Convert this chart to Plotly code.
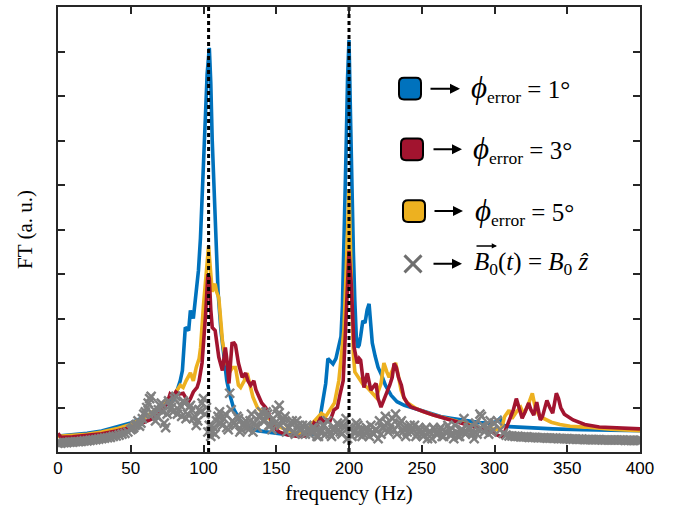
import plotly.graph_objects as go

# ---------------- data ----------------
blue_f = [0, 10, 20, 30, 40, 50, 60, 65, 70, 75, 80, 82, 84, 85.5, 87.5, 89.8, 91, 93, 94.3, 96.5, 97.9,
          99.5, 101, 102.5, 104, 105, 106, 107.5, 109, 110, 112, 114, 116, 118, 121, 125, 130, 137, 145,
          155, 165, 175, 180, 183, 184, 185.5, 187, 189, 191, 193, 194.5, 195.5, 197, 198, 199, 200, 201,
          202, 203, 204, 205, 206, 207, 208, 209.5, 211, 212.5, 213.8, 215, 216, 218, 220, 222, 225, 229,
          233, 238, 243, 247, 255, 263, 270, 280, 290, 298, 302, 304, 306, 310, 320, 340, 360, 380, 400]
blue_v = [0.36, 0.38, 0.42, 0.47, 0.55, 0.65, 0.8, 0.88, 0.97, 1.08, 1.2, 1.4, 1.6, 1.83, 2.8, 2.73, 3.18,
          3.0, 3.4, 4.07, 4.8, 6.0, 7.3, 8.5, 9.08, 8.3, 7.0, 5.5, 4.4, 3.6, 2.73, 2.2, 1.6, 1.3, 0.95,
          0.72, 0.56, 0.48, 0.44, 0.4, 0.37, 0.4, 0.75, 1.3, 1.54, 2.1, 2.05, 1.98, 2.1, 2.35, 2.6, 3.3,
          5.0, 6.8, 8.4, 9.26, 7.6, 5.8, 4.5, 3.4, 2.6, 2.35, 2.4, 2.6, 2.95, 2.9, 3.2, 3.33, 2.7, 2.45,
          2.15, 1.9, 1.76, 1.5, 1.27, 1.13, 1.05, 1.0, 0.97, 0.88, 0.8, 0.76, 0.7, 0.66, 0.64, 0.7, 0.76,
          0.6, 0.57, 0.55, 0.52, 0.5, 0.49, 0.48]

yellow_f = [0, 10, 20, 30, 40, 50, 60, 65, 70, 74, 77, 80, 84, 86, 88, 91, 93, 95, 97, 98, 100, 102,
            103.5, 105, 106, 107, 108, 109, 110.5, 112, 113, 115, 117, 118.6, 120, 122, 124, 125.5, 128,
            130, 132, 134, 137, 140, 144, 150, 158, 165, 172, 175, 178, 181, 184, 187.6, 190, 193, 195,
            196.5, 198, 199, 200, 201, 202, 203, 204, 206, 208, 210, 212.6, 215, 218.6, 222, 224, 226,
            227.6, 230, 232, 234, 235.8, 238, 240.4, 245, 250, 258, 270, 281, 290, 298, 302, 305, 307,
            310, 312, 315, 318, 320, 323, 326, 328, 331, 334, 339, 345, 352, 362, 380, 400]
yellow_v = [0.35, 0.37, 0.4, 0.45, 0.52, 0.62, 0.78, 0.9, 1.0, 1.15, 1.23, 1.3, 1.5, 1.45, 1.6, 1.78,
            1.6, 1.9, 2.1, 2.35, 3.3, 4.2, 4.63, 4.0, 3.6, 3.7, 3.78, 3.6, 3.47, 2.9, 2.5, 2.1, 1.9, 1.83,
            1.9, 1.9, 1.5, 1.45, 1.6, 1.77, 1.5, 1.23, 1.0, 0.9, 0.78, 0.6, 0.48, 0.42, 0.45, 0.65, 0.75,
            0.87, 0.8, 1.0, 1.1, 1.6, 2.2, 2.73, 4.0, 5.2, 5.91, 4.6, 3.4, 2.2, 1.8, 1.7, 1.6, 1.5, 1.45,
            1.35, 1.23, 1.54, 2.0, 1.8, 1.68, 1.85, 2.0, 1.7, 1.39, 1.2, 1.1, 1.0, 0.92, 0.83, 0.72, 0.62,
            0.55, 0.52, 0.5, 0.55, 0.8, 0.94, 0.75, 0.9, 1.0, 0.85, 1.05, 1.32, 1.0, 0.8, 0.75, 0.67,
            0.62, 0.58, 0.56, 0.51, 0.48]

red_f = [0, 2, 10, 20, 30, 40, 50, 60, 65, 70, 73, 75, 77, 79, 81, 83, 86, 88, 89.6, 91, 93, 95.6, 97,
         99, 100, 101.5, 103, 104, 105, 106, 108, 109, 110.5, 112, 113, 115, 116, 117.5, 118.5, 119.6,
         121, 122, 124, 126.6, 129, 130.5, 132.4, 134.6, 136, 138, 140, 142.7, 145, 148, 152, 158, 165,
         170, 174, 176, 178, 180.7, 183, 185, 187, 189.6, 192, 194, 196, 197.6, 199, 200, 201.4, 202.5,
         203.5, 205.7, 207, 208, 210.3, 212.6, 215, 218.6, 220, 222, 224, 226.6, 228, 229.7, 231, 232.5,
         234, 236, 237.7, 240, 242.6, 247, 252, 258, 270, 281, 290, 298, 302, 305, 307, 309, 311, 313,
         315, 317, 319, 321, 323.5, 325, 327, 329, 331.5, 333, 336, 338, 340, 342.5, 344, 345.5, 348,
         354, 362, 372, 385, 396, 400]
red_v = [0.42, 0.33, 0.34, 0.37, 0.41, 0.47, 0.55, 0.68, 0.75, 0.87, 1.0, 1.1, 1.3, 1.23, 1.35, 1.3, 1.32,
         1.2, 1.12, 1.2, 1.35, 1.45, 1.6, 2.0, 2.4, 3.11, 4.0, 3.9, 3.2, 2.8, 2.73, 2.5, 2.13, 1.95,
         1.83, 2.35, 2.1, 1.54, 1.9, 2.44, 2.45, 2.4, 2.0, 1.68, 1.77, 1.6, 1.5, 1.6, 1.4, 1.23, 1.1,
         1.0, 0.85, 0.56, 0.45, 0.38, 0.35, 0.36, 0.45, 0.65, 0.6, 0.78, 0.65, 0.72, 0.7, 0.94, 1.0,
         1.32, 1.6, 2.73, 3.9, 4.52, 3.85, 2.8, 2.35, 1.99, 2.1, 2.06, 1.45, 1.77, 1.39, 1.54, 1.2,
         1.01, 1.2, 1.39, 1.5, 1.68, 1.99, 1.9, 1.68, 1.5, 1.23, 1.1, 1.01, 0.95, 0.9, 0.83, 0.72, 0.6,
         0.52, 0.45, 0.38, 0.34, 0.45, 0.6, 0.75, 0.95, 1.2, 1.0, 0.76, 0.9, 1.1, 0.95, 0.83, 1.12, 0.72,
         0.8, 1.16, 1.0, 0.87, 1.32, 1.2, 1.0, 0.85, 0.72, 0.62, 0.56, 0.54, 0.53, 0.52]

grey_f = list(range(0, 401, 2))
grey_v = [0.20, 0.20, 0.21, 0.21, 0.22, 0.22, 0.23, 0.23, 0.24, 0.25,
          0.25, 0.26, 0.27, 0.28, 0.29, 0.30, 0.31, 0.32, 0.33, 0.35,
          0.36, 0.38, 0.40, 0.42, 0.45, 0.50, 0.55, 0.62, 0.58, 0.75,
          0.90, 1.10, 1.25, 0.95, 0.80, 1.05, 0.90, 0.55, 1.15, 1.00,
          1.20, 0.85, 1.05, 1.15, 0.75, 1.00, 0.95, 0.80, 0.70, 0.90,
          1.20, 1.00, 0.60, 0.45, 0.40, 0.80, 0.65, 0.75, 0.55, 1.32,
          0.70, 0.60, 0.75, 0.50, 0.65, 0.55, 0.70, 0.45, 0.60, 0.80,
          0.90, 0.70, 0.85, 0.60, 0.75, 0.95, 1.05, 0.70, 0.80, 0.55,
          0.65, 0.45, 0.70, 0.50, 0.60, 0.40, 0.50, 0.45, 0.55, 0.35,
          0.45, 0.60, 0.40, 0.50, 0.35, 0.55, 0.65, 0.45, 0.60, 0.75,
          0.55, 0.35, 0.45, 0.60, 0.50, 0.40, 0.55, 0.35, 0.45, 0.50,
          0.30, 0.40, 0.55, 0.65, 0.50, 0.75, 0.85, 0.60, 0.70, 0.55,
          0.45, 0.60, 0.50, 0.35, 0.55, 0.40, 0.50, 0.30, 0.45, 0.55,
          0.40, 0.50, 0.35, 0.45, 0.60, 0.40, 0.30, 0.45, 0.35, 0.50,
          0.40, 0.55, 0.45, 0.30, 0.40, 0.85, 0.60, 0.50, 0.40, 0.45,
          0.65, 0.70, 0.50, 0.42, 0.38, 0.36, 0.36, 0.35, 0.35, 0.34,
          0.34, 0.34, 0.33, 0.33, 0.33, 0.32, 0.32, 0.32, 0.31, 0.31,
          0.31, 0.31, 0.30, 0.30, 0.30, 0.30, 0.29, 0.29, 0.29, 0.29,
          0.29, 0.28, 0.28, 0.28, 0.28, 0.28, 0.28, 0.27, 0.27, 0.27,
          0.27, 0.27, 0.27, 0.27, 0.27, 0.26, 0.26, 0.26, 0.26, 0.26,
          0.26]
grey_f2 = list(range(51, 300, 2))
grey_v2 = [0.52, 0.60, 0.70, 0.65, 0.85, 1.00, 1.20, 0.85, 0.70, 0.95,
           1.10, 0.65, 0.85, 1.05, 0.90, 1.25, 0.95, 0.80, 1.10, 0.85,
           1.05, 0.75, 0.60, 0.95, 1.10, 0.85, 0.45, 0.35, 0.55, 0.70,
           0.90, 0.60, 0.85, 0.50, 0.95, 0.65, 0.80, 0.45, 0.60, 0.70,
           0.50, 0.85, 0.65, 0.55, 0.80, 0.70, 0.90, 0.60, 0.50, 0.65,
           0.85, 0.60, 0.75, 0.45, 0.55, 0.70, 0.40, 0.60, 0.50, 0.45,
           0.60, 0.40, 0.55, 0.50, 0.35, 0.45, 0.60, 0.70, 0.40, 0.50,
           0.45, 0.60, 0.40, 0.55, 0.30, 0.50, 0.45, 0.65, 0.40, 0.35,
           0.50, 0.45, 0.60, 0.40, 0.50, 0.70, 0.55, 0.80, 0.45, 0.60,
           0.50, 0.40, 0.65, 0.45, 0.35, 0.55, 0.45, 0.60, 0.40, 0.50,
           0.35, 0.55, 0.45, 0.30, 0.50, 0.40, 0.55, 0.35, 0.45, 0.50,
           0.40, 0.60, 0.35, 0.50, 0.75, 0.45, 0.55, 0.40, 0.65, 0.50,
           0.80, 0.45, 0.55, 0.70, 0.50]

marker_freqs = [103.5, 200]
x_ticks = [0, 50, 100, 150, 200, 250, 300, 350, 400]
PHI = '<span style="font-size:31px"><i>ϕ</i></span>'
legend_labels = [PHI + "<sub>error</sub> = 1°", PHI + "<sub>error</sub> = 3°",
                 PHI + "<sub>error</sub> = 5°",
                 "<i>B</i><sub>0</sub>(<i>t</i>) = <i>B</i><sub>0</sub> <i>ẑ</i>"]

BLUE, RED, YELLOW, GREY = "#0072BD", "#A2142F", "#EDB120", "#808080"
AX = "#262626"

# ---------------- figure ----------------
W, H = 696, 517
L, R, T, B = 58, 640, 5, 452
XMAX, YMAX = 400, 10


def X(px):
    return (px - L) / (R - L) * XMAX


def Y(py):
    return (B - py) / (B - T) * YMAX


fig = go.Figure()
for f, v, c in [(blue_f, blue_v, BLUE), (yellow_f, yellow_v, YELLOW), (red_f, red_v, RED)]:
    fig.add_trace(go.Scatter(x=f, y=v, mode="lines", line=dict(color=c, width=3.6),
                             hoverinfo="skip", showlegend=False))
for gf, gv in [(grey_f, grey_v), (grey_f2, grey_v2)]:
    fig.add_trace(go.Scatter(x=gf, y=gv, mode="markers",
                             marker=dict(symbol="x-thin", size=9, color=GREY,
                                         line=dict(color=GREY, width=2.4)),
                             showlegend=False))
for mf in marker_freqs:
    fig.add_trace(go.Scatter(x=[mf, mf], y=[0, YMAX], mode="lines",
                             line=dict(color="black", width=3, dash="4px,3px"),
                             showlegend=False))


def rrect(cx, cy, s, r, color):
    x0, x1, y0, y1 = cx - s / 2, cx + s / 2, cy - s / 2, cy + s / 2
    pts = (f"M {X(x0 + r)} {Y(y0)} L {X(x1 - r)} {Y(y0)} Q {X(x1)} {Y(y0)} {X(x1)} {Y(y0 + r)} "
           f"L {X(x1)} {Y(y1 - r)} Q {X(x1)} {Y(y1)} {X(x1 - r)} {Y(y1)} "
           f"L {X(x0 + r)} {Y(y1)} Q {X(x0)} {Y(y1)} {X(x0)} {Y(y1 - r)} "
           f"L {X(x0)} {Y(y0 + r)} Q {X(x0)} {Y(y0)} {X(x0 + r)} {Y(y0)} Z")
    fig.add_shape(type="path", path=pts, xref="x", yref="y", fillcolor=color,
                  line=dict(color="black", width=2))


rows = [(410, 87, BLUE), (412, 148, RED), (414, 210, YELLOW)]
for cx, cy, c in rows:
    rrect(cx, cy, 22, 5, c)

# legend cross
fig.add_trace(go.Scatter(x=[X(413)], y=[Y(263)], mode="markers",
                         marker=dict(symbol="x-thin", size=17, color="#6e6e6e",
                                     line=dict(color="#6e6e6e", width=3)),
                         showlegend=False))

arrow_rows = [(429, 460, 87), (432, 462, 148), (433, 463, 210), (432, 462, 263)]
text_x = [469, 471, 473, 472]
for (a0, a1, ay), tx, lab in zip(arrow_rows, text_x, legend_labels):
    fig.add_annotation(x=X(a1), y=Y(ay), ax=X(a0), ay=Y(ay), xref="x", yref="y",
                       axref="x", ayref="y", showarrow=True, arrowhead=2, arrowsize=1,
                       arrowwidth=2, arrowcolor="black", text="")
    fig.add_annotation(x=X(tx), y=Y(ay), xref="x", yref="y", xanchor="left", yanchor="middle",
                       text=lab, showarrow=False,
                       font=dict(family="Liberation Serif", size=25, color="black"))
# vector arrow over B
fig.add_annotation(x=X(497), y=Y(245), ax=X(475), ay=Y(245), xref="x", yref="y",
                   axref="x", ayref="y", showarrow=True, arrowhead=2, arrowsize=0.7,
                   arrowwidth=1.5, arrowcolor="black", text="")

fig.update_xaxes(range=[0, XMAX], tickvals=x_ticks, ticks="inside", ticklen=7, tickwidth=2,
                 tickcolor=AX, showline=True, linecolor=AX, linewidth=2, mirror="ticks",
                 showgrid=False, zeroline=False,
                 tickfont=dict(family="Liberation Sans", size=17, color="black"),
                 title=dict(text="frequency (Hz)", standoff=8,
                            font=dict(family="Liberation Serif", size=21, color="black")))
fig.update_yaxes(range=[0, YMAX], dtick=1, ticks="inside", ticklen=7, tickwidth=2,
                 tickcolor=AX, showline=True, linecolor=AX, linewidth=2, mirror="ticks",
                 showgrid=False, zeroline=False, showticklabels=False,
                 title=dict(text="FT (a. u.)", standoff=18,
                            font=dict(family="Liberation Serif", size=21, color="black")))
fig.update_layout(width=W, height=H, margin=dict(l=L, r=W - R, t=T, b=H - B),
                  paper_bgcolor="white", plot_bgcolor="white", showlegend=False)
fig.write_html("out.html", config={"displayModeBar": False},
               post_script="document.body.style.margin='0';")
